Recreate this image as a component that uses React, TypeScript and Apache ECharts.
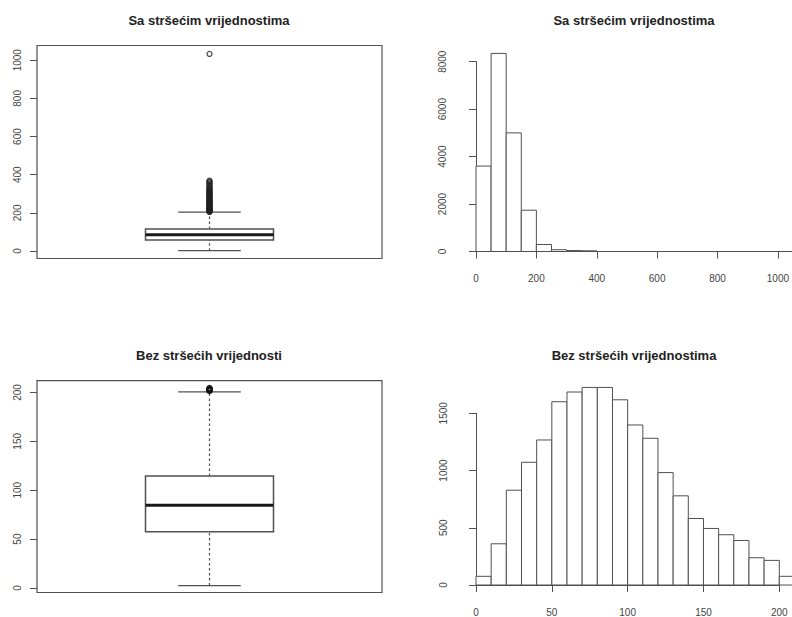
import { useEffect, useRef } from "react";
import * as echarts from "echarts";

// Titles of the four panels
const panelTitles = [
  "Sa stršećim vrijednostima",
  "Sa stršećim vrijednostima",
  "Bez stršećih vrijednosti",
  "Bez stršećih vrijednostima",
];

// Boxplot statistics: [lower whisker, Q1, median, Q3, upper whisker]
const boxWithOutliers = [2, 58, 86, 116, 204];
const outliersAll = [
  205, 207, 209, 211, 213, 215, 217, 219, 221, 223, 225, 228, 230, 233, 235,
  238, 241, 244, 247, 250, 253, 256, 259, 262, 265, 268, 271, 274, 277, 280,
  284, 288, 292, 296, 300, 304, 308, 312, 316, 320, 325, 330, 336, 342, 348,
  354, 360, 365, 369, 1033,
];
const boxWithoutOutliers = [2.5, 57.5, 84.5, 114.5, 200.5];
const outliersClean = [201.5, 202, 202.5, 203, 203.5, 204, 204.5];

// Histogram with outliers: bins of 50 starting at 0
const histAllBinWidth = 50;
const histAllCounts = [
  3600, 8350, 5000, 1740, 295, 75, 40, 30, 0, 0, 0, 0, 0, 0, 0, 0, 0, 0, 0, 0, 1,
];

// Histogram without outliers: bins of 10 starting at 0
const histCleanBinWidth = 10;
const histCleanCounts = [
  76, 360, 828, 1072, 1267, 1601, 1686, 1726, 1726, 1618, 1398, 1282, 982, 779,
  581, 494, 439, 389, 238, 215, 76,
];

// Tick labels
const boxTicksAll = [0, 200, 400, 600, 800, 1000];
const boxTicksClean = [0, 50, 100, 150, 200];

const LINE = "#505050";
const TEXT = "#444";
const FONT = "Liberation Sans";

function binsToData(counts: number[], width: number) {
  return counts.map((c, i) => [i * width, (i + 1) * width, c]);
}

const plain = (v: number) => String(v);

const histRender = (_params: any, api: any) => {
  const x0 = api.value(0);
  const x1 = api.value(1);
  const c = api.value(2);
  const p0 = api.coord([x0, 0]);
  const p1 = api.coord([x1, c]);
  if (c === 0) {
    return {
      type: "line",
      shape: { x1: p0[0], y1: p0[1], x2: p1[0], y2: p0[1] },
      style: { stroke: LINE, lineWidth: 1 },
    };
  }
  return {
    type: "rect",
    shape: { x: p0[0], y: p1[1], width: p1[0] - p0[0], height: p0[1] - p1[1] },
    style: { fill: "#fff", stroke: LINE, lineWidth: 1 },
  };
};

const boxRender = (_params: any, api: any) => {
  const cx = api.value(0);
  const lo = api.value(1);
  const q1 = api.value(2);
  const med = api.value(3);
  const q3 = api.value(4);
  const hi = api.value(5);
  const hw = 0.1855;
  const cw = 0.0907;
  const c = (x: number, y: number) => api.coord([x, y]);
  const tl = c(cx - hw, q3);
  const br = c(cx + hw, q1);
  const ln = (a: number[], b: number[], style: any) => ({
    type: "line",
    shape: { x1: a[0], y1: a[1], x2: b[0], y2: b[1] },
    style,
  });
  const solid = { stroke: LINE, lineWidth: 1.3 };
  const dashed = { stroke: LINE, lineWidth: 1.2, lineDash: [2.5, 2.5] };
  return {
    type: "group",
    children: [
      ln(c(cx, q3), c(cx, hi), dashed),
      ln(c(cx, lo), c(cx, q1), dashed),
      ln(c(cx - cw, hi), c(cx + cw, hi), solid),
      ln(c(cx - cw, lo), c(cx + cw, lo), solid),
      {
        type: "rect",
        shape: { x: tl[0], y: tl[1], width: br[0] - tl[0], height: br[1] - tl[1] },
        style: { fill: "#fff", stroke: LINE, lineWidth: 1.5 },
      },
      ln(c(cx - hw, med), c(cx + hw, med), { stroke: "#1a1a1a", lineWidth: 3 }),
    ],
  };
};

const labelStyle = { fontSize: 10, color: TEXT, fontFamily: FONT, formatter: plain };

export default function App() {
  const ref = useRef<HTMLDivElement>(null);

  useEffect(() => {
    if (!ref.current) return;
    const chart = echarts.init(ref.current, undefined, { renderer: "svg" });

    const boxYAxis = (grid: number, min: number, max: number, ticks: number[]) => ({
      type: "value",
      gridIndex: grid,
      min,
      max,
      axisLine: { show: false },
      splitLine: { show: false },
      axisTick: { show: true, length: 7, customValues: ticks, lineStyle: { color: LINE } },
      axisLabel: { ...labelStyle, rotate: 90, margin: 15, customValues: ticks },
    });

    const histYAxis = (grid: number, max: number, interval: number, offset: number) => ({
      type: "value",
      gridIndex: grid,
      min: 0,
      max,
      interval,
      offset,
      axisLine: { show: true, lineStyle: { color: LINE, width: 1 } },
      splitLine: { show: false },
      axisTick: { show: true, length: 7, lineStyle: { color: LINE } },
      axisLabel: { ...labelStyle, rotate: 90, margin: 15 },
    });

    const histXAxis = (grid: number, max: number, interval: number) => ({
      type: "value",
      gridIndex: grid,
      min: 0,
      max,
      interval,
      offset: 8,
      axisLine: { show: true, lineStyle: { color: LINE, width: 1 } },
      splitLine: { show: false },
      axisTick: { show: true, length: 7, lineStyle: { color: LINE } },
      axisLabel: { ...labelStyle, margin: 14, showMinLabel: true, showMaxLabel: true },
    });

    const hiddenX = (grid: number) => ({
      type: "value",
      gridIndex: grid,
      min: 0.5,
      max: 1.5,
      show: false,
    });

    const titlePos = [
      [209, 20.5],
      [634, 20.5],
      [209, 355.5],
      [634, 355.5],
    ];

    chart.setOption({
      animation: false,
      backgroundColor: "#fff",
      grid: [
        { left: 37, top: 45.5, width: 345, height: 213, show: true, borderColor: LINE, borderWidth: 1.2, backgroundColor: "transparent" },
        { left: 476, top: 61.7, width: 303, height: 189.8 },
        { left: 37, top: 380.7, width: 345, height: 211.8, show: true, borderColor: LINE, borderWidth: 1.2, backgroundColor: "transparent" },
        { left: 476, top: 413.3, width: 303.3, height: 172 },
      ],
      xAxis: [hiddenX(0), histXAxis(1, 1000, 200), hiddenX(2), histXAxis(3, 200, 50)],
      yAxis: [
        boxYAxis(0, -39, 1077, boxTicksAll),
        histYAxis(1, 8000, 2000, 13.5),
        boxYAxis(2, -4.6, 212, boxTicksClean),
        histYAxis(3, 1500, 500, 12.7),
      ],
      graphic: panelTitles.map((t, i) => ({
        type: "text",
        x: titlePos[i][0],
        y: titlePos[i][1],
        style: {
          text: t,
          align: "center",
          verticalAlign: "middle",
          fontSize: 13,
          fontWeight: "bold",
          fontFamily: FONT,
          fill: "#222",
        },
      })),
      series: [
        {
          type: "custom",
          xAxisIndex: 0,
          yAxisIndex: 0,
          renderItem: boxRender,
          encode: { x: 0, y: [1, 2, 3, 4, 5] },
          data: [[1, ...boxWithOutliers]],
          silent: true,
        },
        {
          type: "scatter",
          xAxisIndex: 0,
          yAxisIndex: 0,
          symbol: "circle",
          symbolSize: 5,
          itemStyle: { color: "transparent", borderColor: "#222", borderWidth: 1.3 },
          data: outliersAll.map((v) => [1, v]),
          silent: true,
        },
        {
          type: "custom",
          xAxisIndex: 1,
          yAxisIndex: 1,
          renderItem: histRender,
          encode: { x: [0, 1], y: 2 },
          data: binsToData(histAllCounts, histAllBinWidth),
          silent: true,
        },
        {
          type: "custom",
          xAxisIndex: 2,
          yAxisIndex: 2,
          renderItem: boxRender,
          encode: { x: 0, y: [1, 2, 3, 4, 5] },
          data: [[1, ...boxWithoutOutliers]],
          silent: true,
        },
        {
          type: "scatter",
          xAxisIndex: 2,
          yAxisIndex: 2,
          symbol: "circle",
          symbolSize: 5,
          itemStyle: { color: "transparent", borderColor: "#111", borderWidth: 1.5 },
          data: outliersClean.map((v) => [1, v]),
          silent: true,
        },
        {
          type: "custom",
          xAxisIndex: 3,
          yAxisIndex: 3,
          renderItem: histRender,
          encode: { x: [0, 1], y: 2 },
          data: binsToData(histCleanCounts, histCleanBinWidth),
          silent: true,
        },
      ],
    });

    return () => chart.dispose();
  }, []);

  return (
    <div
      ref={ref}
      style={{ position: "fixed", left: 0, top: 0, width: 792, height: 617, background: "#fff" }}
    />
  );
}
